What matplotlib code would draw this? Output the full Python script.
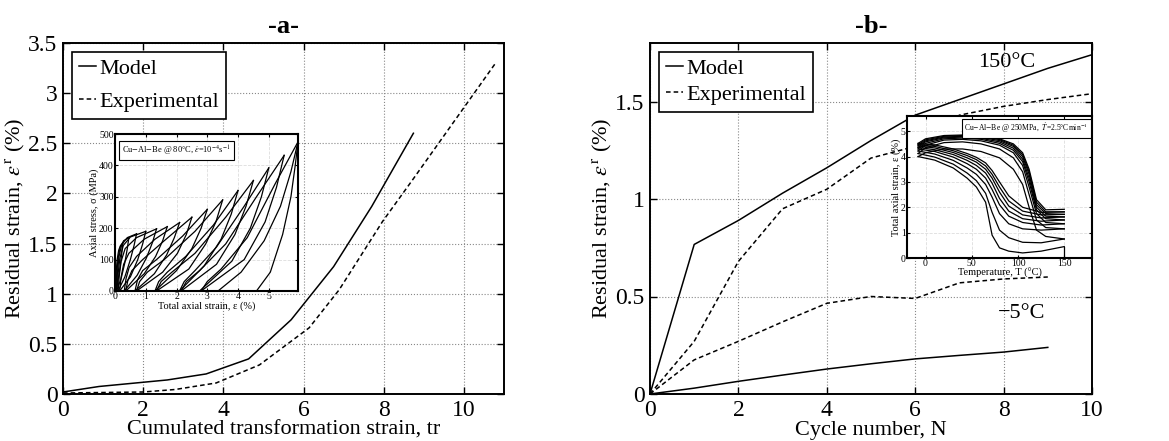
import numpy as np
import matplotlib
matplotlib.use("Agg")
import matplotlib.pyplot as plt

plt.rcParams['font.family'] = ['Liberation Serif', 'DejaVu Serif']
plt.rcParams['mathtext.fontset'] = 'stix'
plt.rcParams['axes.linewidth'] = 1.4

# ---- panel a: residual strain vs cumulated transformation strain
a_model_x = [0, 0.9, 2.6, 3.57, 4.63, 5.69, 6.75, 7.7, 8.74]
a_model_y = [0.02, 0.075, 0.14, 0.2, 0.35, 0.74, 1.27, 1.87, 2.6]
a_exp_x = [0, 2.0, 2.8, 3.82, 4.9, 6.14, 6.89, 7.97, 8.71, 10.79]
a_exp_y = [0.01, 0.02, 0.045, 0.11, 0.29, 0.66, 1.04, 1.72, 2.13, 3.30]

# inset a: cyclic tensile loops (strain %, stress MPa)
ins_a_load = [
    [(0, 0), (0.03, 50), (0.07, 100), (0.12, 130), (0.18, 145), (0.25, 152)],
    [(0.02, 0), (0.06, 60), (0.1, 105), (0.17, 140), (0.28, 160), (0.45, 170)],
    [(0.04, 0), (0.08, 60), (0.13, 110), (0.22, 148), (0.4, 170), (0.7, 182)],
    [(0.06, 0), (0.1, 55), (0.16, 105), (0.27, 145), (0.5, 172), (1.0, 190)],
    [(0.1, 0), (0.14, 50), (0.2, 95), (0.33, 135), (0.7, 170), (1.35, 198)],
    [(0.15, 0), (0.2, 45), (0.28, 85), (0.45, 120), (0.95, 165), (1.7, 205)],
    [(0.3, 0), (0.36, 40), (0.46, 75), (0.7, 110), (1.3, 165), (2.1, 218)],
    [(0.35, 0), (0.42, 35), (0.55, 65), (0.9, 100), (1.6, 160), (2.5, 235)],
    [(0.65, 0), (0.73, 35), (0.9, 65), (1.35, 100), (2.2, 175), (3.0, 260)],
    [(0.7, 0), (0.8, 30), (1.05, 60), (1.6, 100), (2.6, 190), (3.5, 290)],
    [(1.3, 0), (1.42, 30), (1.7, 60), (2.3, 110), (3.2, 210), (4.0, 320)],
    [(1.35, 0), (1.5, 30), (1.85, 60), (2.6, 120), (3.6, 235), (4.5, 352)],
    [(2.1, 0), (2.25, 30), (2.6, 65), (3.3, 140), (4.2, 270), (5.0, 392)],
    [(2.15, 0), (2.32, 30), (2.75, 65), (3.6, 150), (4.6, 300), (5.5, 432)],
    [(2.8, 0), (3.0, 30), (3.45, 70), (4.3, 170), (5.2, 340), (5.95, 475)],
]
ins_a_unload = [
    [(0.25, 152), (0.22, 120), (0.17, 80), (0.1, 35), (0.03, 0)],
    [(0.45, 170), (0.4, 135), (0.32, 90), (0.2, 40), (0.05, 0)],
    [(0.7, 182), (0.62, 145), (0.5, 100), (0.32, 45), (0.1, 0)],
    [(1.0, 190), (0.9, 150), (0.74, 100), (0.5, 45), (0.15, 0)],
    [(1.35, 198), (1.22, 155), (1.02, 105), (0.72, 50), (0.3, 0)],
    [(1.7, 205), (1.55, 160), (1.32, 110), (0.95, 55), (0.35, 0)],
    [(2.1, 218), (1.93, 170), (1.68, 115), (1.28, 55), (0.65, 0)],
    [(2.5, 235), (2.32, 180), (2.03, 120), (1.55, 60), (0.7, 0)],
    [(3.0, 260), (2.8, 200), (2.5, 135), (2.0, 65), (1.3, 0)],
    [(3.5, 290), (3.28, 220), (2.95, 150), (2.4, 70), (1.35, 0)],
    [(4.0, 320), (3.78, 245), (3.45, 165), (2.9, 80), (2.1, 0)],
    [(4.5, 352), (4.26, 270), (3.9, 180), (3.3, 85), (2.15, 0)],
    [(5.0, 392), (4.76, 300), (4.4, 200), (3.8, 95), (2.75, 0)],
    [(5.5, 432), (5.25, 330), (4.88, 220), (4.2, 100), (2.8, 0)],
    [(5.95, 475), (5.72, 380), (5.38, 270), (4.85, 160), (4.1, 60), (3.35, 0)],
    [(5.95, 475), (5.86, 400), (5.72, 300), (5.45, 180), (5.05, 60), (4.6, 0)],
]

# ---- panel b: residual strain vs cycle number
b_N = [0, 1, 2, 3, 4, 5, 6, 7, 8, 9, 10]
b_model_hot = [0, 0.767, 0.89, 1.03, 1.16, 1.30, 1.43, 1.51, 1.59, 1.67, 1.74]
b_exp_hot = [0, 0.27, 0.68, 0.95, 1.05, 1.21, 1.27, 1.43, 1.475, 1.51, 1.54]
b_N_cold = [0, 1, 2, 3, 4, 5, 6, 7, 8, 9]
b_model_cold = [0, 0.03, 0.065, 0.097, 0.128, 0.155, 0.18, 0.198, 0.215, 0.239]
b_exp_cold = [0, 0.175, 0.27, 0.37, 0.465, 0.5, 0.49, 0.57, 0.59, 0.60]

# inset b: thermal cycles under 250 MPa (temperature degC, strain %)
T_low = [-8, 10, 30, 45, 55, 65, 72, 80, 90, 105, 125, 150]
eps_low = [
    [4.0, 3.86, 3.55, 3.15, 2.8, 2.2, 0.9, 0.4, 0.27, 0.2, 0.27, 0.45],
    [4.12, 3.98, 3.7, 3.35, 3.05, 2.55, 1.8, 1.1, 0.8, 0.62, 0.6, 0.75],
    [4.22, 4.1, 3.85, 3.55, 3.3, 2.9, 2.4, 1.75, 1.35, 1.15, 1.1, 1.15],
    [4.3, 4.2, 3.98, 3.72, 3.5, 3.15, 2.7, 2.1, 1.65, 1.4, 1.3, 1.35],
    [4.36, 4.27, 4.08, 3.85, 3.65, 3.35, 2.95, 2.35, 1.85, 1.55, 1.45, 1.5],
    [4.42, 4.34, 4.16, 3.95, 3.78, 3.5, 3.15, 2.6, 2.05, 1.7, 1.58, 1.62],
    [4.47, 4.4, 4.23, 4.04, 3.88, 3.63, 3.3, 2.8, 2.25, 1.85, 1.7, 1.72],
    [4.52, 4.46, 4.3, 4.12, 3.97, 3.75, 3.45, 3.0, 2.45, 2.0, 1.8, 1.82],
]
T_high = [-8, 0, 20, 40, 60, 80, 95, 105, 112, 120, 130, 150]
eps_high = [
    [4.0, 4.15, 4.3, 4.3, 4.2, 3.95, 3.5, 2.9, 2.0, 1.1, 0.85, 0.75],
    [4.12, 4.35, 4.55, 4.58, 4.5, 4.3, 3.95, 3.4, 2.5, 1.5, 1.2, 1.15],
    [4.22, 4.45, 4.65, 4.68, 4.62, 4.45, 4.15, 3.65, 2.8, 1.75, 1.4, 1.35],
    [4.3, 4.52, 4.7, 4.73, 4.68, 4.52, 4.25, 3.8, 3.0, 1.9, 1.55, 1.5],
    [4.36, 4.58, 4.74, 4.77, 4.72, 4.58, 4.33, 3.9, 3.15, 2.0, 1.65, 1.62],
    [4.42, 4.62, 4.77, 4.8, 4.76, 4.63, 4.4, 4.0, 3.3, 2.1, 1.75, 1.72],
    [4.47, 4.66, 4.8, 4.83, 4.79, 4.67, 4.45, 4.08, 3.4, 2.2, 1.82, 1.82],
    [4.52, 4.7, 4.83, 4.85, 4.82, 4.7, 4.5, 4.15, 3.5, 2.3, 1.9, 1.92],
]
load_T = [150, 150]
load_eps = [0.0, 0.45]

W, H = 1169, 441
fig = plt.figure(figsize=(W / 100, H / 100), dpi=100)


def frac(x0, y0, x1, y1):
    # pixel box (left, top, right, bottom) -> figure fraction
    return [x0 / W, 1 - y1 / H, (x1 - x0) / W, (y1 - y0) / H]


def style_main(ax):
    ax.tick_params(direction='in', top=True, right=True, labelsize=17, length=5, width=1, pad=4)
    ax.grid(True, linestyle=':', color='#888888', linewidth=0.8)


def style_inset(ax):
    ax.tick_params(direction='in', top=True, right=True, labelsize=7, length=2.5, width=0.8, pad=1)
    ax.grid(True, linestyle='--', color='#dddddd', linewidth=0.6)
    for s in ax.spines.values():
        s.set_linewidth(1.5)
    ax.set_facecolor('white')


def legend(ax, spacing):
    ax.legend(loc='upper left', fontsize=16, handlelength=0.8, handletextpad=0.15,
              borderpad=0.3, labelspacing=spacing, fancybox=False, edgecolor='black',
              framealpha=1, borderaxespad=0.4).get_frame().set_linewidth(1.2)


# ---- panel a
ax1 = fig.add_axes(frac(63, 43, 504, 394))
ax1.plot(a_model_x, a_model_y, 'k-', lw=1.1, label='Model')
ax1.plot(a_exp_x, a_exp_y, 'k--', lw=1.1, dashes=(3, 2), label='Experimental')
ax1.set_xlim(0, 11)
ax1.set_ylim(0, 3.5)
ax1.set_xticks([0, 2, 4, 6, 8, 10])
ax1.set_yticks([0, 0.5, 1, 1.5, 2, 2.5, 3, 3.5])
ax1.set_yticklabels(['0', '0.5', '1', '1.5', '2', '2.5', '3', '3.5'])
style_main(ax1)
ax1.set_xlabel('Cumulated transformation strain, tr', fontsize=16, labelpad=0)
ax1.set_ylabel(r'Residual strain, $\varepsilon^{\mathrm{r}}$ (%)', fontsize=16, labelpad=1)
ax1.set_title('-a-', fontsize=19, fontweight='bold', pad=7)
legend(ax1, 0.55)

ia = fig.add_axes(frac(115, 134, 298, 291))
for c in ins_a_load + ins_a_unload:
    xs, ys = zip(*c)
    ia.plot(xs, ys, 'k-', lw=0.9)
ia.set_xlim(0, 5.95)
ia.set_ylim(0, 500)
ia.set_xticks([0, 1, 2, 3, 4, 5])
ia.set_yticks([0, 100, 200, 300, 400, 500])
style_inset(ia)
ia.set_xlabel('Total axial strain, ε (%)', fontsize=7.5, labelpad=0)
ia.set_ylabel('Axial stress, σ (MPa)', fontsize=7.5, labelpad=0)
ia.text(0.04, 0.94, r'Cu$-$Al$-$Be @ 80°C, $\dot{\varepsilon}$=10$^{-4}$s$^{-1}$',
        transform=ia.transAxes, fontsize=6, va='top', ha='left',
        bbox=dict(boxstyle='square,pad=0.35', facecolor='white', edgecolor='black', lw=0.8))

# ---- panel b
ax2 = fig.add_axes(frac(650, 43, 1092, 394))
ax2.plot(b_N, b_model_hot, 'k-', lw=1.1, label='Model')
ax2.plot(b_N, b_exp_hot, 'k--', lw=1.1, dashes=(3, 2), label='Experimental')
ax2.plot(b_N_cold, b_model_cold, 'k-', lw=1.1)
ax2.plot(b_N_cold, b_exp_cold, 'k--', lw=1.1, dashes=(3, 2))
ax2.set_xlim(0, 10)
ax2.set_ylim(0, 1.8)
ax2.set_xticks([0, 2, 4, 6, 8, 10])
ax2.set_yticks([0, 0.5, 1, 1.5])
ax2.set_yticklabels(['0', '0.5', '1', '1.5'])
style_main(ax2)
ax2.set_xlabel('Cycle number, N', fontsize=16, labelpad=0)
ax2.set_ylabel(r'Residual strain, $\varepsilon^{\mathrm{r}}$ (%)', fontsize=16, labelpad=1)
ax2.set_title('-b-', fontsize=19, fontweight='bold', pad=7)
ax2.text(8.07, 1.70, '150°C', fontsize=16, ha='center', va='center')
ax2.text(8.41, 0.414, '−5°C', fontsize=16, ha='center', va='center')
legend(ax2, 0.25)

ib = fig.add_axes(frac(907, 116, 1092, 258))
for e in eps_low:
    ib.plot(T_low, e, 'k-', lw=0.9)
for e in eps_high:
    ib.plot(T_high, e, 'k-', lw=0.9)
ib.plot(load_T, load_eps, 'k-', lw=0.9)
ib.set_xlim(-20, 180)
ib.set_ylim(0, 5.6)
ib.set_xticks([0, 50, 100, 150])
ib.set_yticks([0, 1, 2, 3, 4, 5])
style_inset(ib)
ib.set_xlabel('Temperature, T (°C)', fontsize=7.5, labelpad=0)
ib.set_ylabel('Total axial strain, ε (%)', fontsize=7.5, labelpad=0)
ib.text(0.98, 0.96, r'Cu$-$Al$-$Be @ 250MPa,  $\dot{T}$=2.5°Cmin$^{-1}$',
        transform=ib.transAxes, fontsize=5.5, va='top', ha='right',
        bbox=dict(boxstyle='square,pad=0.35', facecolor='white', edgecolor='black', lw=0.8))

fig.savefig('out.png', dpi=100)
